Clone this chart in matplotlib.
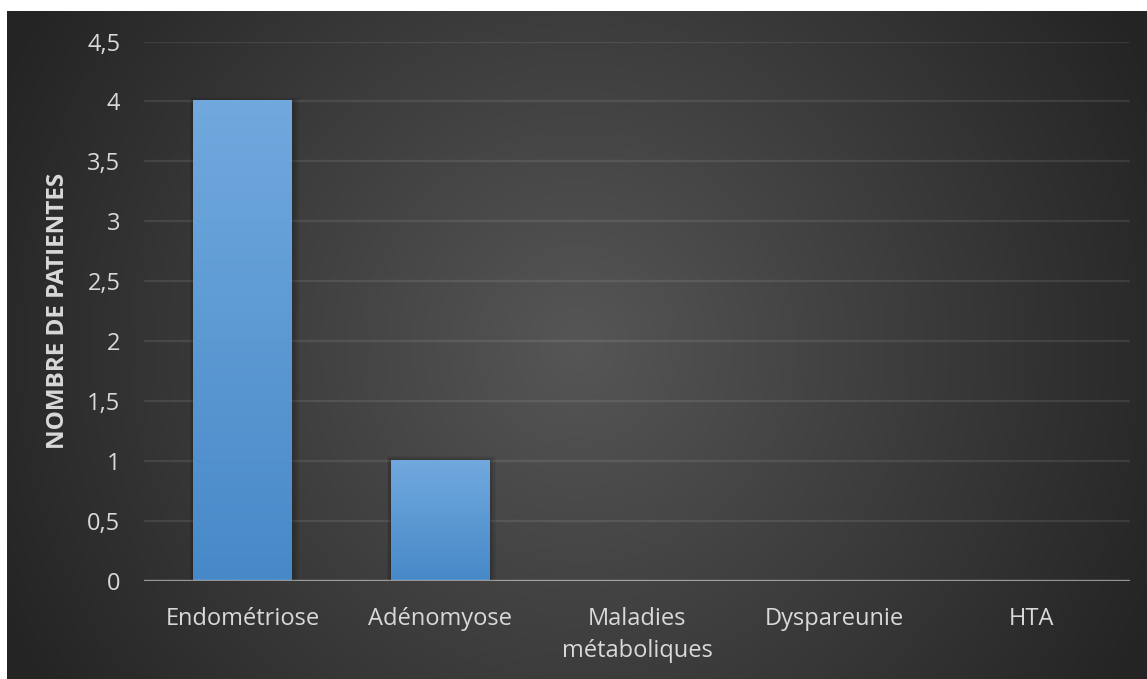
import numpy as np
import matplotlib
matplotlib.use("Agg")
import matplotlib.pyplot as plt
from matplotlib.colors import LinearSegmentedColormap
from matplotlib.patches import Rectangle

# données
categories = ["Endométriose", "Adénomyose", "Maladies\nmétaboliques", "Dyspareunie", "HTA"]
patientes = [4, 1, 0, 0, 0]
yticks = [0, 0.5, 1, 1.5, 2, 2.5, 3, 3.5, 4, 4.5]
ytick_labels = ["0", "0,5", "1", "1,5", "2", "2,5", "3", "3,5", "4", "4,5"]

TXT = "#d9d9d9"
plt.rcParams["font.family"] = ["Open Sans", "DejaVu Sans"]

W, H = 1147, 679
fig = plt.figure(figsize=(W / 100, H / 100), dpi=100)
fig.patch.set_facecolor("white")

# fond sombre avec dégradé radial
bg = fig.add_axes([7 / W, 0, (W - 7) / W, (H - 11) / H])
bg.set_axis_off()
ny, nx = 300, 500
yy, xx = np.mgrid[0:ny, 0:nx]
cx, cy = nx * 0.50, ny * 0.50
r = np.hypot((xx - cx) / nx * 1140, (yy - cy) / ny * 668)
t = np.clip(r / 640, 0, 1)
c_in, c_out = 0x56, 0x24
g = (c_in + (c_out - c_in) * t) / 255
bg.imshow(np.dstack([g, g, g]), aspect="auto", extent=[0, 1, 0, 1], interpolation="bilinear")
bg.set_xlim(0, 1)
bg.set_ylim(0, 1)

ax = fig.add_axes([144 / W, (H - 580.5) / H, 986 / W, 539 / H])
ax.patch.set_alpha(0)

bar_cmap = LinearSegmentedColormap.from_list("bleu", ["#4789c8", "#71a9de"])
grad = np.linspace(0, 1, 256).reshape(-1, 1)
bw = 0.5
for i, v in enumerate(patientes):
    if v <= 0:
        continue
    # ombre douce
    for k in range(1, 6):
        d = 0.006 * k
        ax.add_patch(Rectangle((i - bw / 2 - d * 0.6, 0), bw + d * 1.8, v + d * 1.2,
                               facecolor="black", edgecolor="none", alpha=0.05, zorder=2))
    ax.imshow(grad, cmap=bar_cmap, origin="lower", aspect="auto",
              extent=[i - bw / 2, i + bw / 2, 0, v], zorder=3)

ax.set_xlim(-0.5, len(categories) - 0.5)
ax.set_ylim(0, 4.5)

for y in yticks[1:]:
    ax.axhline(y, color="white", alpha=0.09, lw=1.6, zorder=1)
ax.axhline(0, color="white", alpha=0.5, lw=2.4, zorder=4)

for s in ax.spines.values():
    s.set_visible(False)
ax.set_yticks(yticks)
ax.set_yticklabels(ytick_labels)
ax.set_xticks(range(len(categories)))
ax.set_xticklabels(categories, linespacing=1.45, va="top")
ax.tick_params(axis="both", length=0, colors=TXT, labelsize=17)
ax.tick_params(axis="y", pad=17)
ax.tick_params(axis="x", pad=19)
ax.set_ylabel("NOMBRE DE PATIENTES", color=TXT, fontsize=17.5, fontweight="bold")
ax.yaxis.set_label_coords(-74 / 986, 0.5)

fig.savefig("out.png", dpi=100, facecolor=fig.get_facecolor())
